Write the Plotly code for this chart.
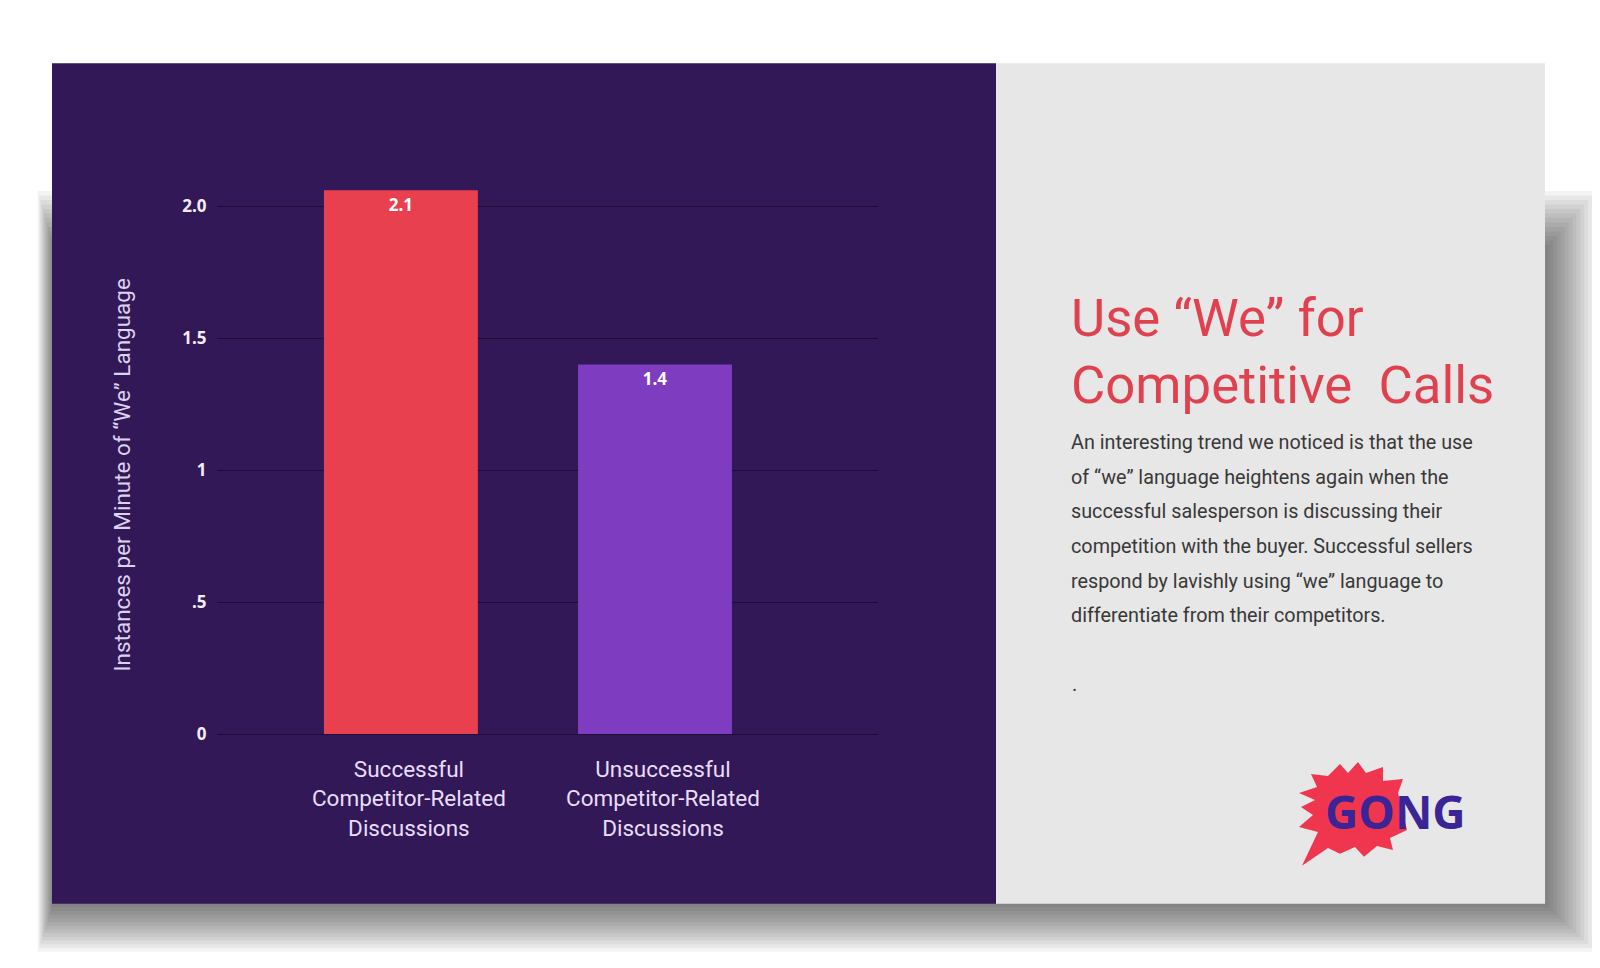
import plotly.graph_objects as go

# ---------------- data ----------------
categories = ["Successful<br>Competitor-Related<br>Discussions",
              "Unsuccessful<br>Competitor-Related<br>Discussions"]
values = [2.06, 1.40]
value_labels = ["2.1", "1.4"]
bar_colors = ["#e8404f", "#7e3dc0"]
y_tickvals = [0, 0.5, 1, 1.5, 2.0]
y_ticktext = ["0", ".5", "1", "1.5", "2.0"]
y_title = "Instances per Minute of \u201cWe\u201d Language"
headline = ["Use \u201cWe\u201d for", "Competitive\u00a0 Calls"]
body_lines = [
    "An interesting trend we noticed is that the use",
    "of \u201cwe\u201d language heightens again when the",
    "successful salesperson is discussing their",
    "competition with the buyer. Successful sellers",
    "respond by lavishly using \u201cwe\u201d language to",
    "differentiate from their competitors.",
]

# ---------------- geometry helpers ----------------
# page body has an 8px margin, so the figure is 1584x952 and offset by 8px
OFF = 8
W, H = 1600 - 2 * OFF, 968 - 2 * OFF


def px(x):
    return (x - OFF) / W


def py(y):
    yc = 64.0 + (y - 62) * 1.0098
    return 1 - (yc - OFF) / H


PURPLE = "#321857"
GREY = "#e7e7e7"

shapes = []
# soft drop shadow (stacked translucent rectangles)
N = 13
for i in range(N):
    shapes.append(dict(
        type="rect", xref="paper", yref="paper", layer="below",
        x0=px(38 + i * 1.2), x1=px(1596 - i * 3.9),
        y0=py(952 - i * 3.7), y1=py(190 + i * 4.5),
        fillcolor="rgba(0,0,0,0.047)", line=dict(width=0)))
# panels
shapes.append(dict(type="rect", xref="paper", yref="paper", layer="below",
                   x0=px(52), x1=px(996), y0=py(904), y1=py(62),
                   fillcolor=PURPLE, line=dict(width=0)))
shapes.append(dict(type="rect", xref="paper", yref="paper", layer="below",
                   x0=px(996), x1=px(1545), y0=py(904), y1=py(62),
                   fillcolor=GREY, line=dict(width=0)))

# GONG starburst logo outline (decoration)
star = [(1358, 762), (1366, 773), (1383, 767), (1383, 781), (1403, 779),
        (1398, 793), (1407, 830), (1390, 838), (1393, 850), (1377, 846),
        (1364, 857), (1355, 847), (1340, 854), (1328, 848), (1302, 866),
        (1318, 832), (1299, 827), (1313, 815), (1301, 807), (1315, 800),
        (1299, 793), (1317, 787), (1311, 774), (1328, 776), (1340, 764),
        (1348, 773)]
path = "M " + " L ".join(f"{px(x):.5f},{py(y):.5f}" for x, y in star) + " Z"
shapes.append(dict(type="path", xref="paper", yref="paper", layer="below",
                   path=path, fillcolor="#f0364f", line=dict(width=0)))

annotations = []
annotations.append(dict(
    xref="paper", yref="paper", x=px(122), y=py(474), text=y_title,
    textangle=-90, showarrow=False, xanchor="center", yanchor="middle",
    font=dict(family="Roboto", size=22.5, color="#ddd2ee")))

head_y = [317, 384]
for t, yy in zip(headline, head_y):
    annotations.append(dict(
        xref="paper", yref="paper", x=px(1069), y=py(yy), text=t,
        showarrow=False, xanchor="left", yanchor="middle",
        font=dict(family="Roboto", size=52.7, color="#e0414f")))

body_y = [442, 477, 511, 546, 581, 615]
for t, yy in zip(body_lines, body_y):
    annotations.append(dict(
        xref="paper", yref="paper", x=px(1069), y=py(yy), text=t,
        showarrow=False, xanchor="left", yanchor="middle",
        font=dict(family="Roboto", size=19.8, color="#383838")))

annotations.append(dict(
    xref="paper", yref="paper", x=px(1070), y=py(684), text=".",
    showarrow=False, xanchor="left", yanchor="middle",
    font=dict(family="Roboto", size=19.8, color="#383838")))

annotations.append(dict(
    xref="paper", yref="paper", x=px(1395), y=py(811), text="<b>GONG</b>",
    showarrow=False, xanchor="center", yanchor="middle",
    font=dict(family="Open Sans", size=46, color="#3b2596")))

# ---------------- chart ----------------
x_pos = list(range(len(categories)))
fig = go.Figure(go.Bar(
    x=x_pos, y=values, width=0.606,
    marker=dict(color=bar_colors, line=dict(width=0)),
    text=value_labels, textposition="inside", insidetextanchor="end",
    textfont=dict(family="Open Sans", size=17, color="#ffffff", weight="bold"),
    hoverinfo="skip"))

y0_pix, y_top_val = 734, 2.25
unit = 264.5
y_top_pix = y0_pix - y_top_val * unit

fig.update_layout(
    width=W, height=H,
    margin=dict(l=0, r=0, t=0, b=0),
    paper_bgcolor="#ffffff",
    plot_bgcolor="rgba(0,0,0,0)",
    showlegend=False,
    shapes=shapes,
    annotations=annotations,
    xaxis=dict(
        domain=[px(217), px(878)], range=[-0.724, 1.878],
        tickvals=x_pos, ticktext=categories,
        showgrid=False, zeroline=False, showline=False,
        ticks="outside", ticklen=15, tickcolor="rgba(0,0,0,0)",
        ticklabelshift=8,
        tickfont=dict(family="Roboto", size=22.5, color="#e8defa"),
        fixedrange=True),
    yaxis=dict(
        domain=[py(y0_pix), py(y_top_pix)], range=[0, y_top_val],
        tickvals=y_tickvals, ticktext=y_ticktext,
        showgrid=True, gridcolor="#1d0c38", gridwidth=1.2,
        zeroline=True, zerolinecolor="#1d0c38", zerolinewidth=1.2,
        showline=False,
        ticks="outside", ticklen=6, tickcolor="rgba(0,0,0,0)",
        tickfont=dict(family="Open Sans", size=17, color="#f2edf7", weight="bold"),
        fixedrange=True),
)

fig.write_html("out.html")
